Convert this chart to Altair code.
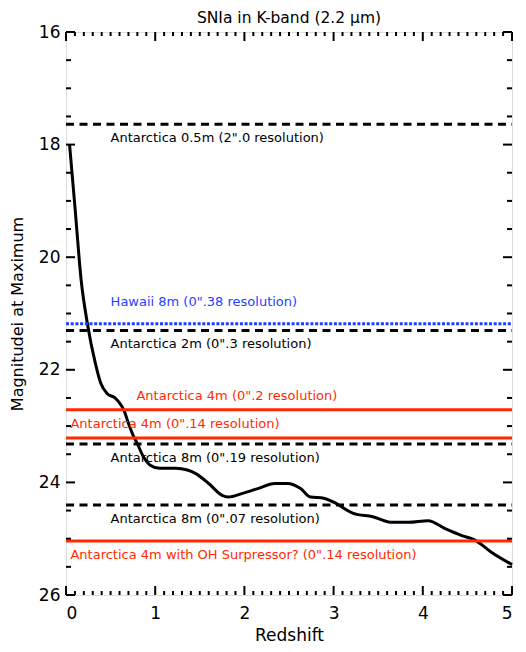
import altair as alt
import pandas as pd

# ---- data ----
curve_z = [0.04, 0.10, 0.17, 0.24, 0.33, 0.39, 0.46, 0.55, 0.59, 0.65, 0.70, 0.76, 0.79, 0.87,
           0.94, 1.05, 1.23, 1.36, 1.45, 1.60, 1.75, 1.82, 1.97, 2.15, 2.34, 2.48, 2.63,
           2.74, 2.89, 3.00, 3.22, 3.44, 3.66, 3.84, 4.06, 4.25, 4.43, 4.58, 4.76, 5.00]
curve_mag = [18.00, 19.10, 20.41, 21.18, 21.89, 22.24, 22.42, 22.50, 22.57, 22.72, 22.95, 23.19,
             23.28, 23.55, 23.69, 23.75, 23.75, 23.78, 23.84, 24.02, 24.23, 24.26, 24.20, 24.11,
             24.02, 24.02, 24.11, 24.26, 24.28, 24.35, 24.55, 24.61, 24.71, 24.71, 24.68, 24.82,
             24.94, 25.02, 25.23, 25.46]

line_names = ["Antarctica 0.5m (2\".0 resolution)",
              "Hawaii 8m (0\".38 resolution)",
              "Antarctica 2m (0\".3 resolution)",
              "Antarctica 4m (0\".2 resolution)",
              "Antarctica 4m (0\".14 resolution)",
              "Antarctica 8m (0\".19 resolution)",
              "Antarctica 8m (0\".07 resolution)",
              "Antarctica 4m with OH Surpressor? (0\".14 resolution)"]
line_mag = [17.64, 21.18, 21.30, 22.71, 23.21, 23.32, 24.40, 25.04]
line_kind = ["dashed", "dotted", "dashed", "solid", "solid", "dashed", "dashed", "solid"]
label_z = [0.50, 0.50, 0.50, 0.79, 0.05, 0.50, 0.50, 0.05]
label_side = ["below", "high", "below", "above", "above", "below", "below", "below"]

x_major = [0, 1, 2, 3, 4, 5]
x_minor = [round(i * 0.1, 1) for i in range(51) if i % 10 != 0]
y_major = [16, 18, 20, 22, 24, 26]
y_minor = [16.5, 17, 17.5, 18.5, 19, 19.5, 20.5, 21, 21.5, 22.5, 23, 23.5, 24.5, 25, 25.5]

title_text = "SNIa in K-band (2.2 μm)"
x_title = "Redshift"
y_title = "Magnitudei at Maximum"

FONT = "DejaVu Sans"
RED = "#ff2a00"
BLUE = "#1f3fff"
W, H = 446, 563

xs = alt.Scale(domain=[0, 5], nice=False, zero=False, padding=0)
ys = alt.Scale(domain=[16, 26], reverse=True, nice=False, zero=False, padding=0)

curve_df = pd.DataFrame({"z": curve_z, "mag": curve_mag})
lines_df = pd.DataFrame({"name": line_names, "mag": line_mag, "kind": line_kind,
                         "z": label_z, "side": label_side})

curve = alt.Chart(curve_df).mark_line(color="black", strokeWidth=3, interpolate="monotone").encode(
    x=alt.X("z:Q", scale=xs,
            axis=alt.Axis(values=x_major, format="d", ticks=False, domain=False, grid=False,
                          labelFontSize=17, labelPadding=10, labelFont=FONT, labelColor="black",
                          title=x_title, titleFontSize=17, titleFontWeight="normal",
                          titleColor="black",
                          titleFont=FONT, titleY=40, titleBaseline="middle")),
    y=alt.Y("mag:Q", scale=ys,
            axis=alt.Axis(values=y_major, format="d", ticks=False, domain=False, grid=False,
                          labelFontSize=17, labelPadding=6, labelFont=FONT, labelColor="black",
                          title=y_title, titleFontSize=16, titleFontWeight="normal",
                          titleColor="black",
                          titleFont=FONT, titleX=-49, titleY=H / 2, titleAngle=270,
                          titleAlign="center", titleBaseline="middle")),
)

title = alt.Chart(pd.DataFrame({"t": [title_text]})).mark_text(
    baseline="alphabetic", align="center", font=FONT, fontSize=15.5, color="black"
).encode(text="t:N", x=alt.value(W / 2), y=alt.value(-9))


def hline(kind, color, dash, width):
    return alt.Chart(lines_df).transform_filter(alt.datum.kind == kind).mark_rule(
        color=color, strokeWidth=width, strokeDash=dash
    ).encode(y=alt.Y("mag:Q", scale=ys), x=alt.value(0), x2=alt.value(W))


dashed = hline("dashed", "black", [8, 5.5], 3)
dotted = hline("dotted", BLUE, [3, 1.7], 3)
solid = hline("solid", RED, [1, 0], 3)


def labels(side, dy):
    return alt.Chart(lines_df).transform_filter(alt.datum.side == side).mark_text(
        align="left", baseline="middle", dy=dy, font=FONT, fontSize=13
    ).encode(
        x=alt.X("z:Q", scale=xs), y=alt.Y("mag:Q", scale=ys), text="name:N",
        color=alt.Color("kind:N", scale=alt.Scale(domain=["dashed", "dotted", "solid"],
                                                  range=["black", BLUE, RED]), legend=None),
    )


lab_below = labels("below", 14)
lab_above = labels("above", -14)
lab_high = labels("high", -22)


def xticks(vals, length):
    df = pd.DataFrame({"z": vals})
    bottom = alt.Chart(df).mark_rule(color="black", strokeWidth=2).encode(
        x=alt.X("z:Q", scale=xs), y=alt.value(H), y2=alt.value(H - length))
    top = alt.Chart(df).mark_rule(color="black", strokeWidth=2).encode(
        x=alt.X("z:Q", scale=xs), y=alt.value(0), y2=alt.value(length))
    return [bottom, top]


def yticks(vals, length):
    df = pd.DataFrame({"mag": vals})
    left = alt.Chart(df).mark_rule(color="black", strokeWidth=2).encode(
        y=alt.Y("mag:Q", scale=ys), x=alt.value(0), x2=alt.value(length))
    right = alt.Chart(df).mark_rule(color="black", strokeWidth=2).encode(
        y=alt.Y("mag:Q", scale=ys), x=alt.value(W), x2=alt.value(W - length))
    return [left, right]


layers = [curve, dashed, dotted, solid, lab_below, lab_above, lab_high, title]
layers += xticks(x_major, 9) + xticks(x_minor, 4) + yticks(y_major, 9) + yticks(y_minor, 5)

chart = alt.layer(*layers).properties(
    width=W, height=H,
    autosize=alt.AutoSizeParams(type="none"),
    padding={"left": 58, "top": 24, "right": 6, "bottom": 48},
).configure_view(stroke="black", strokeWidth=3).configure(background="white")

chart.save("out.html", embed_options={"renderer": "svg", "actions": False})
